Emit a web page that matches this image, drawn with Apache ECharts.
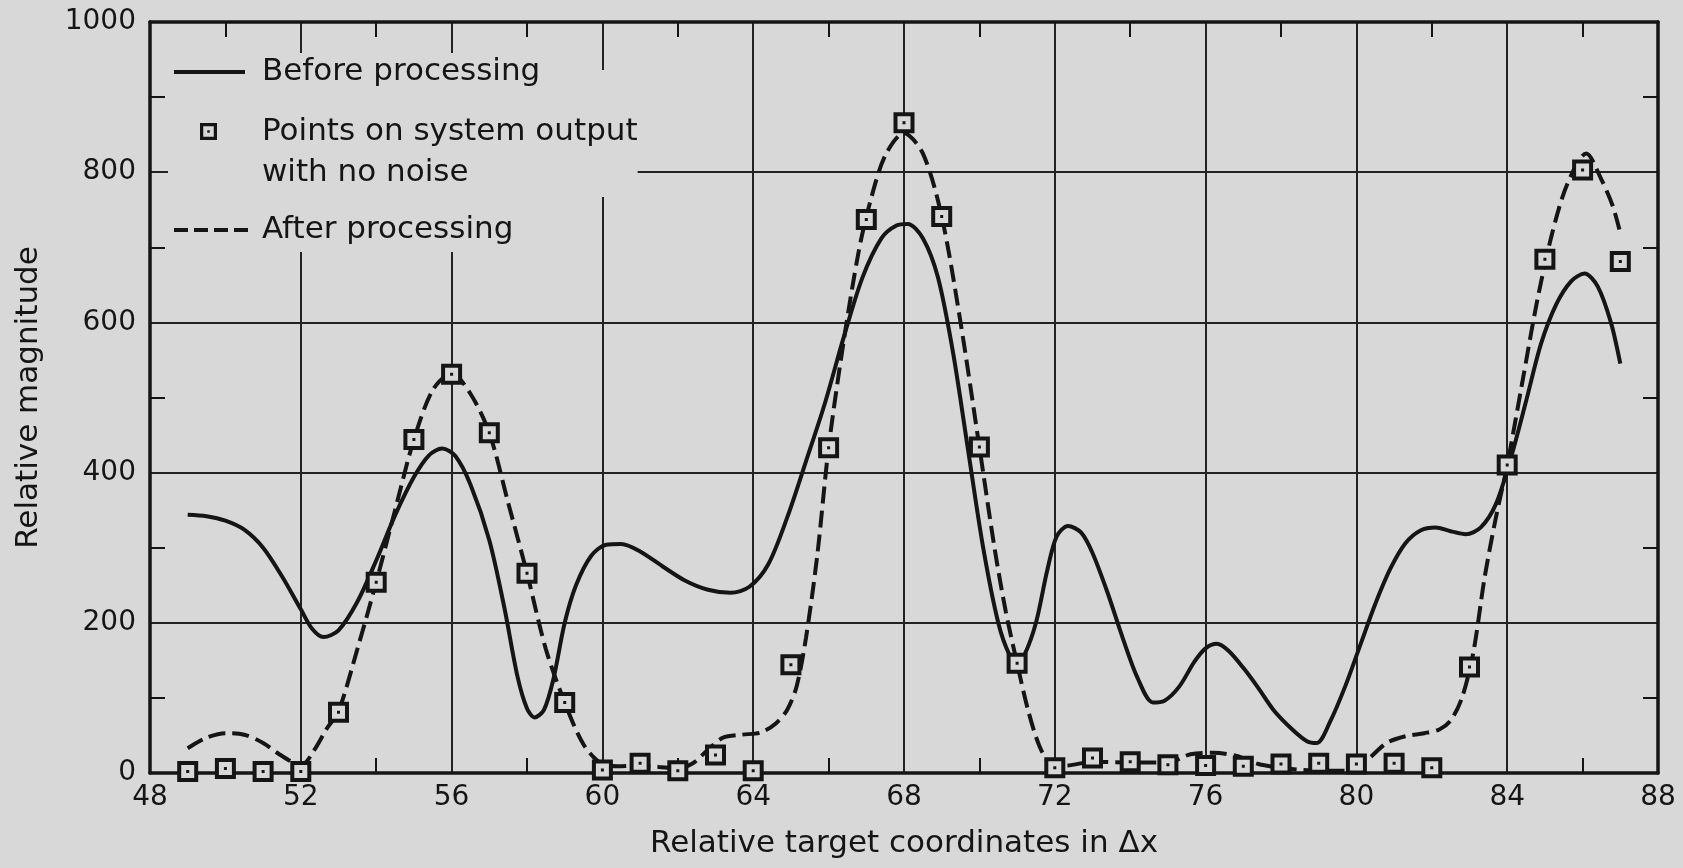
<!DOCTYPE html>
<html>
<head>
<meta charset="utf-8">
<script src="https://cdn.jsdelivr.net/npm/echarts@6/dist/echarts.min.js"></script>
<style>
html,body{margin:0;padding:0;background:#d8d8d8;}
#chart{width:1683px;height:868px;}
</style>
</head>
<body>
<div id="chart"></div>
<script>
// ---- data ----
const seriesNames = ['Before processing', 'Points on system output with no noise', 'After processing'];
const xTickValues = [48, 52, 56, 60, 64, 68, 72, 76, 80, 84, 88];
const yTickValues = [0, 200, 400, 600, 800, 1000];

const beforeX = [49, 49.5, 50, 50.5, 51, 51.5, 52, 52.3, 52.6, 53, 53.5, 54, 54.5, 55, 55.4, 55.75, 56.1, 56.5, 57, 57.4, 57.75, 58, 58.2, 58.45, 58.7, 59, 59.3, 59.7, 60.1, 60.5, 61, 61.6, 62.2, 62.8, 63.4, 63.9, 64.4, 64.9, 65.4, 65.9, 66.4, 66.9, 67.4, 67.8, 68.1, 68.5, 68.9, 69.3, 69.7, 70.1, 70.5, 70.8, 71, 71.2, 71.5, 71.8, 72.05, 72.35, 72.7, 73, 73.4, 73.8, 74.2, 74.6, 74.9, 75.3, 75.7, 76, 76.3, 76.6, 77, 77.4, 77.8, 78.3, 78.7, 78.95, 79.3, 79.7, 80.1, 80.5, 80.9, 81.3, 81.7, 82.1, 82.5, 82.9, 83.3, 83.7, 84.1, 84.5, 84.9, 85.3, 85.7, 86.05, 86.4, 86.75, 87];
const beforeY = [344, 342, 336, 324, 300, 262, 218, 192, 181, 190, 228, 283, 343, 394, 423, 432, 422, 384, 310, 220, 128, 86, 74, 84, 125, 200, 250, 289, 304, 305, 295, 275, 256, 244, 240, 248, 278, 340, 415, 492, 580, 660, 712, 729, 731, 712, 660, 560, 430, 300, 200, 157, 148, 158, 200, 270, 315, 329, 320, 293, 240, 180, 126, 94, 96, 115, 148, 166, 172, 163, 140, 113, 84, 58, 42, 40, 68, 115, 170, 225, 272, 306, 323, 327, 322, 318, 327, 358, 420, 495, 572, 624, 655, 665, 648, 600, 545];

const afterX = [49, 49.5, 50, 50.5, 51, 51.4, 51.8, 52.05, 52.35, 52.7, 53, 53.5, 54, 54.5, 55, 55.5, 56, 56.5, 57, 57.5, 58, 58.5, 59, 59.5, 60, 60.5, 61, 61.5, 62, 62.4, 62.8, 63.2, 63.7, 64.2, 64.6, 64.9, 65.15, 65.4, 65.7, 66, 66.4, 66.8, 67.1, 67.5, 68, 68.5, 69, 69.5, 70, 70.4, 70.7, 71, 71.3, 71.6, 71.9, 72.3, 73, 74, 75, 75.6, 76.2, 76.8, 77.4, 78, 78.6, 79.2, 79.8, 80.3, 80.8, 81.3, 81.8, 82.2, 82.5, 82.8, 83.1, 83.4, 83.7, 84, 84.4, 84.8, 85.2, 85.6, 86.1, 86.5, 86.8, 87];
const afterY = [33, 47, 53, 51, 40, 26, 14, 12, 30, 60, 82, 165, 254, 350, 444, 510, 532, 505, 453, 360, 266, 165, 94, 38, 12, 9, 10, 8, 6, 13, 31, 47, 51, 54, 66, 84, 115, 180, 290, 433, 575, 695, 760, 822, 852, 825, 741, 600, 434, 300, 215, 146, 82, 35, 12, 10, 15, 14, 14, 25, 27, 23, 12, 7, 4, 3, 3, 18, 40, 49, 53, 58, 70, 100, 160, 260, 340, 410, 520, 630, 720, 785, 825, 790, 755, 719];

const pointX = [49, 50, 51, 52, 53, 54, 55, 56, 57, 58, 59, 60, 61, 62, 63, 64, 65, 66, 67, 68, 69, 70, 71, 72, 73, 74, 75, 76, 77, 78, 79, 80, 81, 82, 83, 84, 85, 86, 87];
const pointY = [2, 6, 2, 2, 81, 254, 444, 531, 453, 266, 94, 4, 13, 3, 24, 3, 144, 433, 737, 866, 741, 434, 146, 7, 20, 15, 11, 10, 9, 12, 13, 12, 13, 7, 141, 410, 684, 803, 681];

// ---- styling ----
const ink = '#151515';
const paper = '#d8d8d8';
const font = 'DejaVu Sans';
const squareIcon = 'path://M0,0 L21,0 L21,21 L0,21 Z M4,4 L4,17 L17,17 L17,4 Z M9,9 L12,9 L12,12 L9,12 Z';
const solidIcon = 'path://M0,0 L71,0 L71,4 L0,4 Z';
const dashIcon = 'path://M0,0 L14,0 L14,4 L0,4 Z M20,0 L34,0 L34,4 L20,4 Z M40,0 L54,0 L54,4 L40,4 Z M60,0 L74,0 L74,4 L60,4 Z';

const zip = (xs, ys) => xs.map((x, i) => [x, ys[i]]);
const xMin = xTickValues[0], xMax = xTickValues[xTickValues.length - 1], xStep = xTickValues[1] - xTickValues[0];
const yMin = yTickValues[0], yMax = yTickValues[yTickValues.length - 1], yStep = yTickValues[1] - yTickValues[0];

const frameLine = { show: true, onZero: false, lineStyle: { color: ink, width: 3.5 } };
const minor = { show: true, splitNumber: 2, length: 15, lineStyle: { color: ink, width: 2 } };
const labelStyle = { fontFamily: font, fontSize: 28, color: ink };
const legendText = { fontFamily: font, fontSize: 31, color: ink };

const chart = echarts.init(document.getElementById('chart'), null, { renderer: 'canvas' });
chart.setOption({
  backgroundColor: paper,
  animation: false,
  grid: { left: 150, right: 25, top: 22, bottom: 95, containLabel: false, outerBoundsMode: 'none' },
  legend: [
    {
      data: [seriesNames[1]], z: 4, left: 168, top: 70, orient: 'vertical',
      padding: [0, 0, 4, 32], itemWidth: 17, itemHeight: 17,
      backgroundColor: paper, selectedMode: false,
      formatter: () => '\nPoints on system output\nwith no noise',
      textStyle: Object.assign({}, legendText, { lineHeight: 41, padding: [0, 0, 0, 40] })
    },
    {
      data: [{ name: seriesNames[0], icon: solidIcon, itemStyle: { color: ink, borderWidth: 0 } }],
      z: 5, left: 168, top: 53, orient: 'vertical',
      padding: [2, 27, 11, 6], itemWidth: 71, itemHeight: 4, symbolKeepAspect: false,
      backgroundColor: paper, selectedMode: false,
      textStyle: Object.assign({}, legendText, { lineHeight: 34, padding: [0, 0, 0, 12] })
    },
    {
      data: [{ name: seriesNames[2], icon: dashIcon, itemStyle: { color: ink, borderWidth: 0 } }],
      z: 5, left: 168, top: 197, orient: 'vertical',
      padding: [16, 52, 5, 6], itemWidth: 74, itemHeight: 4, symbolKeepAspect: false,
      backgroundColor: paper, selectedMode: false,
      textStyle: Object.assign({}, legendText, { lineHeight: 34, padding: [0, 0, 0, 9] })
    }
  ],
  xAxis: [
    {
      type: 'value', position: 'bottom', min: xMin, max: xMax, interval: xStep,
      name: 'Relative target coordinates in \u0394x', nameLocation: 'middle', nameGap: 55,
      nameTextStyle: { fontFamily: font, fontSize: 31, color: ink },
      axisLine: frameLine,
      axisTick: { show: false, inside: true },
      minorTick: minor,
      axisLabel: Object.assign({ margin: 11, formatter: v => String(v) }, labelStyle),
      splitLine: { show: true, lineStyle: { color: '#222', width: 2 } },
      minorSplitLine: { show: false }
    },
    {
      type: 'value', position: 'top', min: xMin, max: xMax, interval: xStep,
      axisLine: frameLine,
      axisTick: { show: false, inside: true },
      minorTick: minor,
      axisLabel: { show: false },
      splitLine: { show: false }
    }
  ],
  yAxis: [
    {
      type: 'value', position: 'left', min: yMin, max: yMax, interval: yStep,
      name: 'Relative magnitude', nameLocation: 'middle', nameGap: 106,
      nameTextStyle: { fontFamily: font, fontSize: 31, color: ink },
      axisLine: frameLine,
      axisTick: { show: false, inside: true },
      minorTick: minor,
      axisLabel: Object.assign({ margin: 14, formatter: v => String(v) }, labelStyle),
      splitLine: { show: true, lineStyle: { color: '#222', width: 2 } },
      minorSplitLine: { show: false }
    },
    {
      type: 'value', position: 'right', min: yMin, max: yMax, interval: yStep,
      axisLine: frameLine,
      axisTick: { show: false, inside: true },
      minorTick: minor,
      axisLabel: { show: false },
      splitLine: { show: false }
    }
  ],
  series: [
    {
      name: seriesNames[0], type: 'line', xAxisIndex: 0, yAxisIndex: 0,
      data: zip(beforeX, beforeY), smooth: 0.3, symbol: 'none', z: 2,
      lineStyle: { color: ink, width: 4, type: 'solid' }, itemStyle: { color: ink }
    },
    {
      name: seriesNames[2], type: 'line', xAxisIndex: 0, yAxisIndex: 0,
      data: zip(afterX, afterY), smooth: 0.3, symbol: 'none', z: 2,
      lineStyle: { color: ink, width: 4, type: [17, 7] }, itemStyle: { color: ink }
    },
    {
      name: 'square background', type: 'scatter', xAxisIndex: 0, yAxisIndex: 0,
      data: zip(pointX, pointY), symbol: 'rect', symbolSize: 19, z: 3, silent: true, clip: false,
      itemStyle: { color: paper, opacity: 1 }
    },
    {
      name: seriesNames[1], type: 'scatter', xAxisIndex: 0, yAxisIndex: 0,
      data: zip(pointX, pointY), symbol: squareIcon, symbolSize: 21, z: 4, clip: false,
      itemStyle: { color: ink, opacity: 1 }
    }
  ]
});
</script>
</body>
</html>
